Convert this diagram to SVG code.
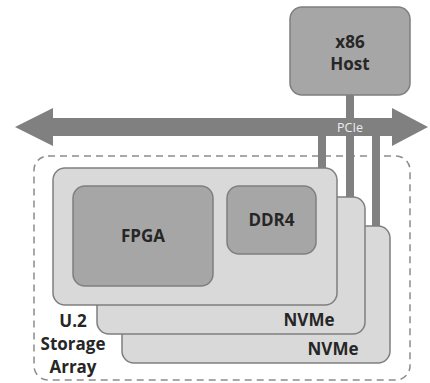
<svg xmlns="http://www.w3.org/2000/svg" width="430" height="383" viewBox="0 0 430 383">
<style>
.card{fill:#d9d9d9;stroke:#7f7f7f;stroke-width:1.5}
.chip{fill:#a6a6a6;stroke:#7f7f7f;stroke-width:1.5}
.lbl{font-family:"Open Sans","Liberation Sans",sans-serif;font-weight:bold;font-size:17px;fill:#262626;text-anchor:middle}
.link{stroke:#808080;stroke-width:8;fill:none}
</style>
<rect width="430" height="383" fill="#ffffff"/>
<g id="storage-array">
<rect x="34" y="156" width="376" height="224" rx="14" fill="none" stroke="#8c8c8c" stroke-width="1.5" stroke-dasharray="7 5"/>
<text class="lbl" x="73" y="327">U.2</text>
<text class="lbl" x="73" y="350">Storage</text>
<text class="lbl" x="73" y="373">Array</text>
</g>
<g id="connectors">
<polygon points="15,127 53,108 53,118 392,118 392,108 428,127 392,146 392,136 53,136 53,146" fill="#808080"/>
<line class="link" x1="322" y1="136" x2="322" y2="169"/>
<line class="link" x1="350" y1="94" x2="350" y2="198"/>
<line class="link" x1="376" y1="136" x2="376" y2="226"/>
<text x="350" y="131.5" font-family="'Open Sans','Liberation Sans',sans-serif" font-size="12.5" fill="#ececec" text-anchor="middle">PCIe</text>
</g>
<g id="nvme-3">
<rect class="card" x="122" y="226" width="268" height="137" rx="12"/>
<text class="lbl" x="333" y="355">NVMe</text>
</g>
<g id="nvme-2">
<rect class="card" x="97" y="197" width="268" height="137" rx="12"/>
<text class="lbl" x="309" y="326">NVMe</text>
</g>
<g id="nvme-1">
<rect class="card" x="53" y="168" width="284" height="137" rx="12"/>
</g>
<g id="fpga">
<rect class="chip" x="73" y="186" width="140" height="100" rx="12"/>
<text class="lbl" x="143" y="242">FPGA</text>
</g>
<g id="ddr4">
<rect class="chip" x="227" y="186" width="89" height="68" rx="12"/>
<text class="lbl" x="271.5" y="226">DDR4</text>
</g>
<g id="host">
<rect class="chip" x="290" y="7" width="120" height="88" rx="12"/>
<text class="lbl" x="350" y="48" font-size="16">x86</text>
<text class="lbl" x="350" y="70" font-size="16">Host</text>
</g>
</svg>
